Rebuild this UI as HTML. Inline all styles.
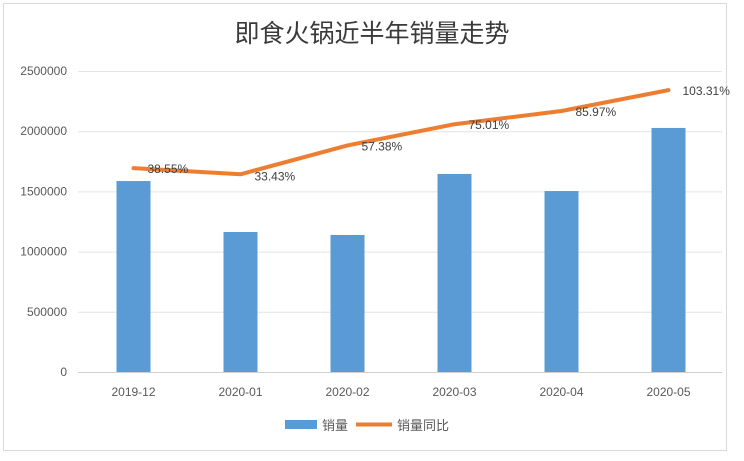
<!DOCTYPE html>
<html><head><meta charset="utf-8"><style>
body{margin:0;background:#fff;}
svg text{font-family:"Liberation Sans","Noto Sans CJK SC",sans-serif;}
</style></head><body>
<svg width="744" height="456" viewBox="0 0 744 456">
<rect x="3.5" y="3.5" width="723" height="447" fill="#fff" stroke="#d9d9d9"/>
<text x="372" y="42" text-anchor="middle" font-size="25" fill="#3a3a3a">即食火锅近半年销量走势</text>
<g id="grid"></g><g id="bars"></g><g id="line"></g><g id="labels"></g>
<g>
<rect x="285" y="420" width="32" height="9" fill="#5b9bd5"/>
<text x="322" y="430" font-size="13" fill="#595959">销量</text>
<line x1="356" y1="424.5" x2="392" y2="424.5" stroke="#ed7d31" stroke-width="4"/>
<text x="397" y="430" font-size="13" fill="#595959">销量同比</text>
</g>
</svg>
<script>
const categories=["2019-12","2020-01","2020-02","2020-03","2020-04","2020-05"];
const sales=[1586000,1163000,1138000,1645000,1503000,2027000];
const yoy=[38.55,33.43,57.38,75.01,85.97,103.31];
const yTicks=[0,500000,1000000,1500000,2000000,2500000];
const ns="http://www.w3.org/2000/svg";
const L=80,R=722,T=71,B=372;
const step=(R-L)/categories.length;
const xc=i=>L+step*(i+0.5);
const y=v=>B-(v/2500000)*(B-T);
const y2=v=>B-((v+130.8)/250)*(B-T);
function mk(t,a,p){const e=document.createElementNS(ns,t);for(const k in a)e.setAttribute(k,a[k]);p.appendChild(e);return e;}
const g=document.getElementById('grid');
yTicks.forEach(t=>{
 const l=mk('line',{x1:L-2,x2:R,y1:y(t)+0.5,y2:y(t)+0.5,stroke:t===0?'#d0d0d0':'#e4e4e4'},g);
 
 
 const tx=mk('text',{x:67,y:y(t)+4,'text-anchor':'end','font-size':12,fill:'#595959'},g);
 tx.textContent=t;
 
 
});
const bg=document.getElementById('bars');
categories.forEach((c,i)=>{
 const r=mk('rect',{x:xc(i)-17,y:y(sales[i]),width:34,height:B-y(sales[i]),fill:'#5b9bd5'},bg);
 
 
 const tx=mk('text',{x:xc(i),y:396,'text-anchor':'middle','font-size':12,fill:'#595959'},bg);
 tx.textContent=c;
 
 
});
const pl=mk('polyline',{points:yoy.map((v,i)=>xc(i)+','+y2(v)).join(' '),fill:'none',stroke:'#ed7d31','stroke-width':4,'stroke-linejoin':'round','stroke-linecap':'round'},document.getElementById('line'));


const lg=document.getElementById('labels');
yoy.forEach((v,i)=>{
 const tx=mk('text',{x:xc(i)+14,y:y2(v)+(i===1?6:5),'font-size':12,fill:'#404040'},lg);
 tx.textContent=v.toFixed(2)+'%';
 
 
});
</script>
</body></html>
